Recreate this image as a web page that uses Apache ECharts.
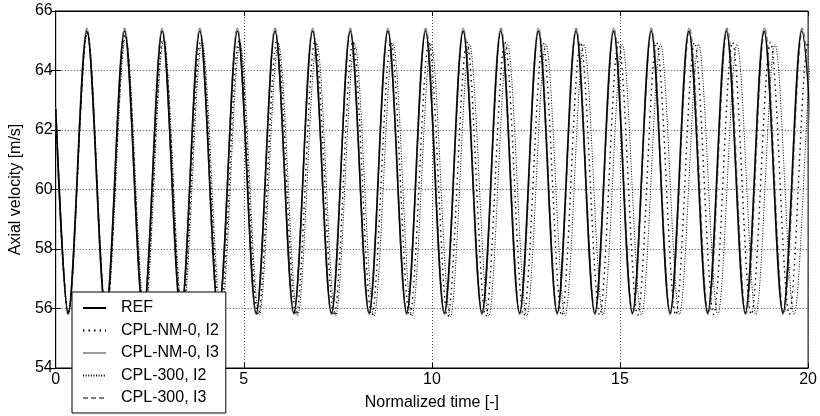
<!DOCTYPE html>
<html>
<head>
<meta charset="utf-8">
<script src="https://cdn.jsdelivr.net/npm/echarts@6/dist/echarts.min.js"></script>
<style>
html,body{margin:0;padding:0;background:#fff;}
#chart{width:820px;height:416px;}
</style>
</head>
<body>
<div id="chart"></div>
<script>
// ---- data (turning points of each curve) ----
var seriesNames = ['REF', 'CPL-NM-0, I2', 'CPL-NM-0, I3', 'CPL-300, I2', 'CPL-300, I3'];
var xTicks = [0, 5, 10, 15, 20];
var yTicks = [54, 56, 58, 60, 62, 64, 66];

var refT = [0, 0.33, 0.83, 1.33, 1.83, 2.33, 2.83, 3.33, 3.83, 4.33, 4.83, 5.33, 5.83, 6.33, 6.83, 7.33, 7.83, 8.33, 8.83, 9.33, 9.83, 10.33, 10.83, 11.33, 11.83, 12.33, 12.83, 13.33, 13.83, 14.33, 14.83, 15.33, 15.83, 16.33, 16.83, 17.33, 17.83, 18.33, 18.83, 19.33, 19.83, 20.33];
var refV = [62.7, 55.85, 65.32, 55.85, 65.32, 55.85, 65.32, 55.85, 65.32, 55.85, 65.32, 55.85, 65.32, 55.85, 65.32, 55.85, 65.32, 55.85, 65.32, 55.85, 65.32, 55.85, 65.32, 55.85, 65.32, 55.85, 65.32, 55.85, 65.32, 55.85, 65.32, 55.85, 65.32, 55.85, 65.32, 55.85, 65.32, 55.85, 65.32, 55.85, 65.32, 55.85];

var nm0I2T = [0, 0.33, 0.84, 1.34, 1.85, 2.35, 2.86, 3.36, 3.86, 4.37, 4.87, 5.38, 5.88, 6.39, 6.89, 7.40, 7.90, 8.40, 8.91, 9.41, 9.92, 10.42, 10.93, 11.43, 11.94, 12.44, 12.95, 13.45, 13.95, 14.46, 14.96, 15.47, 15.97, 16.48, 16.98, 17.49, 17.99, 18.49, 19.00, 19.50, 20.00, 20.50];
var nm0I2V = [62.7, 55.8, 65.28, 55.8, 65.2, 55.8, 65.12, 55.8, 65.05, 55.78, 65.0, 55.78, 65.0, 55.78, 64.98, 55.76, 64.98, 55.76, 64.96, 55.75, 64.95, 55.72, 64.95, 55.75, 64.95, 55.76, 64.95, 55.76, 64.95, 55.78, 64.95, 55.78, 64.95, 55.78, 64.95, 55.8, 64.95, 55.8, 64.95, 55.8, 64.95, 55.8];

var nm0I3T = refT;
var nm0I3V = [62.75, 55.8, 65.42, 55.8, 65.42, 55.8, 65.42, 55.8, 65.42, 55.8, 65.42, 55.8, 65.42, 55.8, 65.42, 55.8, 65.42, 55.8, 65.42, 55.8, 65.42, 55.8, 65.42, 55.8, 65.42, 55.8, 65.42, 55.8, 65.42, 55.8, 65.42, 55.8, 65.42, 55.8, 65.42, 55.8, 65.42, 55.8, 65.42, 55.8, 65.42, 55.8];

var c300I2T = [0, 0.34, 0.84, 1.35, 1.86, 2.37, 2.87, 3.38, 3.89, 4.40, 4.90, 5.41, 5.92, 6.43, 6.94, 7.44, 7.95, 8.46, 8.97, 9.47, 9.98, 10.49, 11.00, 11.51, 12.01, 12.52, 13.03, 13.54, 14.04, 14.55, 15.06, 15.57, 16.08, 16.58, 17.09, 17.60, 18.11, 18.61, 19.12, 19.63, 20.14, 20.64];
var c300I2V = [62.8, 55.82, 65.25, 55.82, 65.12, 55.8, 65.02, 55.8, 64.95, 55.78, 64.92, 55.78, 64.9, 55.76, 64.9, 55.75, 64.88, 55.75, 64.88, 55.74, 64.88, 55.72, 64.88, 55.74, 64.88, 55.75, 64.88, 55.76, 64.88, 55.78, 64.88, 55.78, 64.88, 55.8, 64.88, 55.8, 64.88, 55.8, 64.88, 55.8, 64.88, 55.8];

var c300I3T = [0, 0.33, 0.83, 1.33, 1.83, 2.33, 2.83, 3.33, 3.83, 4.33, 4.83, 5.33, 5.83, 6.33, 6.83, 7.33, 7.83, 8.33, 8.83, 9.33, 9.84, 10.34, 10.84, 11.34, 11.84, 12.34, 12.84, 13.34, 13.84, 14.34, 14.84, 15.34, 15.84, 16.34, 16.85, 17.35, 17.85, 18.35, 18.85, 19.35, 19.85, 20.35];
var c300I3V = [62.75, 55.82, 65.4, 55.82, 65.4, 55.82, 65.4, 55.82, 65.4, 55.82, 65.4, 55.82, 65.4, 55.82, 65.4, 55.82, 65.4, 55.82, 65.4, 55.82, 65.4, 55.82, 65.4, 55.82, 65.4, 55.82, 65.4, 55.82, 65.4, 55.82, 65.4, 55.82, 65.4, 55.82, 65.4, 55.82, 65.4, 55.82, 65.4, 55.82, 65.4, 55.82];

function pairs(t, v) { return t.map(function (x, i) { return [x, v[i]]; }); }

var FONT = 'Liberation Sans, Arial, sans-serif';
var chart = echarts.init(document.getElementById('chart'), null, {renderer: 'canvas'});

var gridLine = {show: true, lineStyle: {color: '#444', width: 1, type: [1, 2]}};
var tickIn = {show: true, inside: true, length: 5, lineStyle: {color: '#000'}};

function lineSeries(name, data, style, z) {
  return {
    name: name, type: 'line', data: data, smooth: 0.33,
    symbol: 'none', showSymbol: false, z: z, animation: false,
    color: style.color, itemStyle: {color: style.color},
    lineStyle: style, emphasis: {disabled: true}
  };
}

chart.setOption({
  animation: false,
  backgroundColor: '#fff',
  grid: {left: 52, right: 11, top: 11, bottom: 40, show: true, borderColor: '#000', borderWidth: 1, backgroundColor: 'transparent'},
  xAxis: [{
    type: 'value', min: xTicks[0], max: xTicks[xTicks.length - 1], interval: 5,
    name: 'Normalized time [-]', nameLocation: 'middle', nameGap: 27,
    nameTextStyle: {fontFamily: FONT, fontSize: 16, color: '#000'},
    axisLine: {show: true, onZero: false, lineStyle: {color: '#000', width: 1}},
    axisTick: tickIn, splitLine: gridLine,
    axisLabel: {fontFamily: FONT, fontSize: 16, color: '#000', margin: 4}
  }, {
    type: 'value', position: 'top', min: 0, max: 20, interval: 5,
    axisLine: {show: true, lineStyle: {color: '#000'}}, axisTick: tickIn,
    axisLabel: {show: false}, splitLine: {show: false}
  }],
  yAxis: [{
    type: 'value', min: yTicks[0], max: yTicks[yTicks.length - 1], interval: 2,
    name: 'Axial velocity [m/s]', nameLocation: 'middle', nameGap: 27,
    nameTextStyle: {fontFamily: FONT, fontSize: 16, color: '#000'},
    axisLine: {show: true, onZero: false, lineStyle: {color: '#000', width: 1}},
    axisTick: tickIn, splitLine: gridLine,
    axisLabel: {fontFamily: FONT, fontSize: 16, color: '#000', margin: 3}
  }, {
    type: 'value', position: 'right', min: 54, max: 66, interval: 2,
    axisLine: {show: true, lineStyle: {color: '#000'}}, axisTick: tickIn,
    axisLabel: {show: false}, splitLine: {show: false}
  }],
  legend: {
    data: seriesNames,
    orient: 'vertical', left: 72, top: 292, height: 120,
    padding: [8, 7, 7, 10], itemGap: 6.5, itemWidth: 23, itemHeight: 14,
    backgroundColor: '#fff', borderColor: '#000', borderWidth: 1, borderRadius: 0,
    itemStyle: {opacity: 0},
    textStyle: {fontFamily: FONT, fontSize: 16, lineHeight: 14, color: '#000', padding: [0, 0, 0, 10]},
    z: 20
  },
  series: [
    lineSeries(seriesNames[2], pairs(nm0I3T, nm0I3V), {color: '#9a9a9a', width: 1.8, type: 'solid'}, 2),
    lineSeries(seriesNames[4], pairs(c300I3T, c300I3V), {color: '#808080', width: 1.5, type: [5, 3]}, 3),
    lineSeries(seriesNames[0], pairs(refT, refV), {color: '#000', width: 1.5, type: 'solid'}, 4),
    lineSeries(seriesNames[3], pairs(c300I2T, c300I2V), {color: '#000', width: 1, type: [1, 1.6]}, 5),
    lineSeries(seriesNames[1], pairs(nm0I2T, nm0I2V), {color: '#000', width: 1.4, type: [1.5, 4]}, 6)
  ]
});
</script>
</body>
</html>
